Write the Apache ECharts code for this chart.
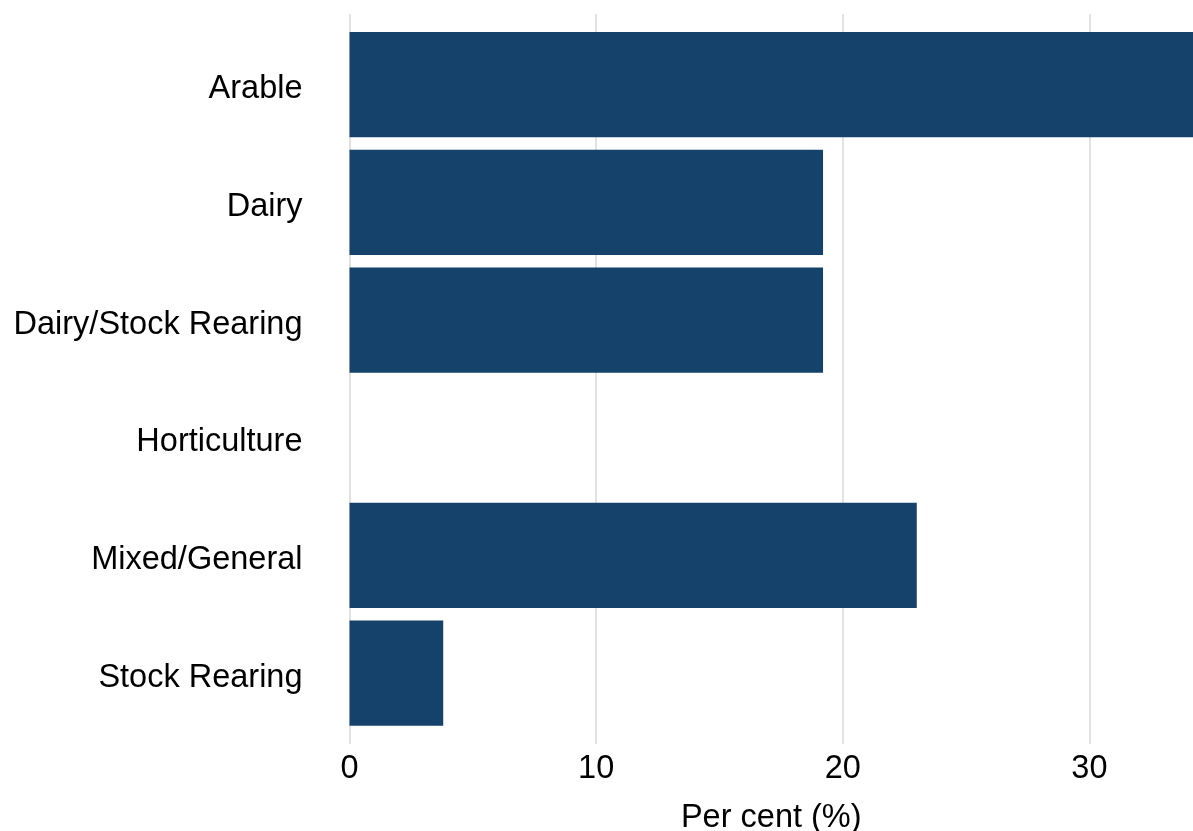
<!DOCTYPE html>
<html>
<head>
<meta charset="utf-8">
<script src="https://cdn.jsdelivr.net/npm/echarts@6/dist/echarts.min.js"></script>
<style>
html,body{margin:0;padding:0;background:#fff;}
#chart{width:1193px;height:831px;}
</style>
</head>
<body>
<div id="chart"></div>
<script>
const categories = ["Arable", "Dairy", "Dairy/Stock Rearing", "Horticulture", "Mixed/General", "Stock Rearing"];
const values = [34.2, 19.2, 19.2, 0, 23.0, 3.8];
const xTicks = [0, 10, 20, 30];
const xTitle = "Per cent (%)";

const chart = echarts.init(document.getElementById('chart'), null, {renderer: 'canvas'});
const FONT = "Liberation Sans";
const xMax = 34.2;
const unitPx = (1193 - 349.5) / xMax;
const gridAxisMax = 40;

chart.setOption({
  animation: false,
  backgroundColor: '#ffffff',
  grid: [
    {left: 349.5, width: gridAxisMax * unitPx, top: 14, height: 730, containLabel: false, outerBoundsMode: 'none'},
    {left: 349.5, right: 0, top: 25.8, height: 706.2, containLabel: false, outerBoundsMode: 'none'}
  ],
  xAxis: [
    {
      gridIndex: 0, type: 'value', min: 0, max: gridAxisMax, interval: 10,
      axisLine: {show: false}, axisTick: {show: false},
      axisLabel: {show: true, fontFamily: FONT, fontSize: 32.5, color: '#000', margin: 9,
        formatter: v => xTicks.includes(v) ? String(v) : ''},
      splitLine: {show: true, lineStyle: {color: '#d9d9d9', width: 1.5}}
    },
    {
      gridIndex: 1, type: 'value', min: 0, max: xMax,
      axisLine: {show: false}, axisTick: {show: false}, axisLabel: {show: false},
      splitLine: {show: false},
      name: xTitle, nameLocation: 'middle', nameGap: 70,
      nameTextStyle: {fontFamily: FONT, fontSize: 32.5, color: '#000'}
    }
  ],
  yAxis: [
    {gridIndex: 0, type: 'value', show: false, splitLine: {show: false}},
    {
      gridIndex: 1, type: 'category', data: categories, inverse: true,
      axisLine: {show: false}, axisTick: {show: false},
      axisLabel: {
        margin: 47,
        formatter: v => '{c|' + v + '}',
        rich: {c: {fontFamily: FONT, fontSize: 32.5, color: '#000', padding: [9, 0, 0, 0]}}
      }
    }
  ],
  series: [{
    type: 'bar', xAxisIndex: 1, yAxisIndex: 1,
    data: values, barCategoryGap: '10.5%',
    itemStyle: {color: '#14426b'},
    emphasis: {disabled: true}
  }]
});
</script>
</body>
</html>
